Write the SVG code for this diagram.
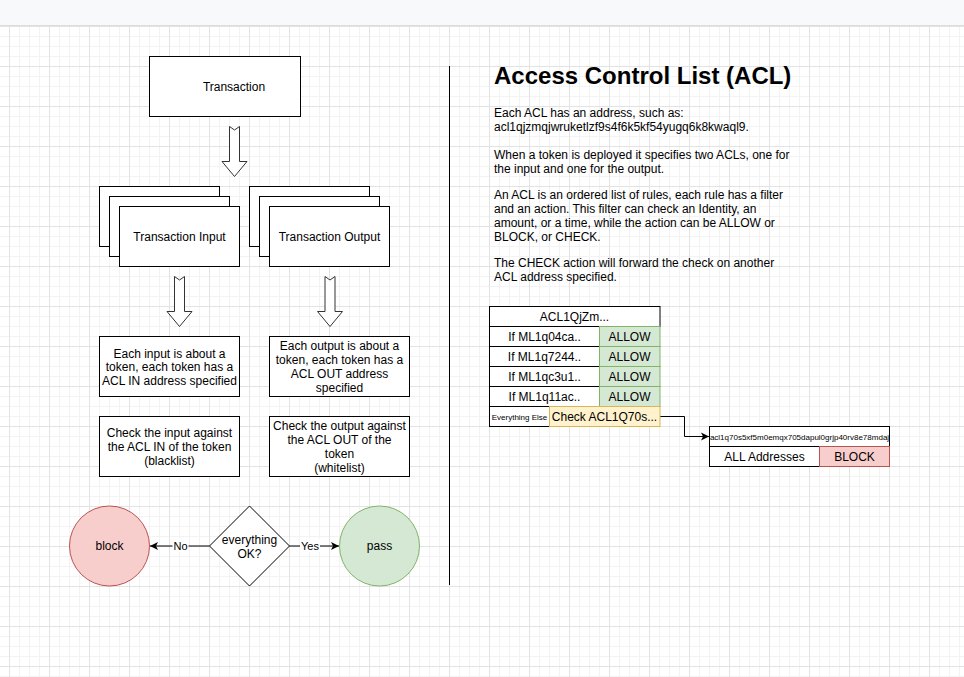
<svg xmlns="http://www.w3.org/2000/svg" width="964" height="677" viewBox="0 0 964 677">
<defs>
<pattern id="grid" x="9" y="26" width="40" height="40" patternUnits="userSpaceOnUse">
<path d="M10.5,0V40M20.5,0V40M30.5,0V40M0,10.5H40M0,20.5H40M0,30.5H40" stroke="#f3f3f3" stroke-width="1" fill="none"/>
<path d="M0.5,0V40M0,0.5H40" stroke="#e3e3e3" stroke-width="1" fill="none"/>
</pattern>
<marker id="arr" markerUnits="userSpaceOnUse" markerWidth="8" markerHeight="8" refX="8" refY="4" orient="auto" overflow="visible">
<path d="M0,0 L8,4 L0,8 L2,4 Z" fill="#000"/>
</marker>
<style>
text{font-family:"Liberation Sans",Arial,Helvetica,sans-serif;fill:#000;}
.t12{font-size:12px;text-anchor:middle;}
.p{font-size:12px;}
.box{fill:#fff;stroke:#000;stroke-width:1;}
.barrow{fill:#fff;stroke:#333;stroke-width:1;}
.green{fill:#d5e8d4;stroke:#82b366;stroke-width:1;}
.red{fill:#f8cecc;stroke:#b85450;stroke-width:1;}
.yellow{fill:#fff2cc;stroke:#d6b656;stroke-width:1;}
.edge{fill:none;stroke:#000;stroke-width:1;}
.lbl{font-size:11px;text-anchor:middle;}
</style>
</defs>
<rect x="0" y="0" width="964" height="677" fill="#fff"/>
<rect x="0" y="26" width="964" height="651" fill="url(#grid)"/>
<rect x="0" y="0" width="964" height="25" fill="#f8f9fa"/>
<line x1="0" y1="25.5" x2="964" y2="25.5" stroke="#dadce0"/>

<g id="transaction">
<rect class="box" x="149.5" y="56.5" width="151" height="60"/>
<text class="t12" x="234" y="91">Transaction</text>
</g>

<g id="arrow-transaction">
<path class="barrow" d="M229.5,126.5 L234.5,130 L239.5,126.5 L239.5,161.5 L247,161.5 L234.5,176.5 L222,161.5 L229.5,161.5 Z"/>
</g>

<g id="transaction-input">
<rect class="box" x="99.5" y="186.5" width="120" height="60"/>
<rect class="box" x="109.5" y="196.5" width="120" height="60"/>
<rect class="box" x="119.5" y="206.5" width="120" height="60"/>
<text class="t12" x="179.5" y="240.5">Transaction Input</text>
</g>

<g id="transaction-output">
<rect class="box" x="249.5" y="186.5" width="120" height="60"/>
<rect class="box" x="259.5" y="196.5" width="120" height="60"/>
<rect class="box" x="269.5" y="206.5" width="120" height="60"/>
<text class="t12" x="329.5" y="240.5">Transaction Output</text>
</g>

<g id="arrow-input">
<path class="barrow" d="M174.5,276.5 L179.5,280 L184.5,276.5 L184.5,311.5 L192,311.5 L179.5,326.5 L167,311.5 L174.5,311.5 Z"/>
</g>
<g id="arrow-output">
<path class="barrow" d="M325,276.5 L330,280 L335,276.5 L335,311.5 L342.5,311.5 L330,326.5 L317.5,311.5 L325,311.5 Z"/>
</g>

<g id="input-desc">
<rect class="box" x="99.5" y="336.5" width="140" height="60"/>
<text class="t12" x="169.5" y="357.5">Each input is about a</text>
<text class="t12" x="169.5" y="371">token, each token has a</text>
<text class="t12" x="169.5" y="385">ACL IN address specified</text>
</g>

<g id="output-desc">
<rect class="box" x="269.5" y="336.5" width="140" height="60"/>
<text class="t12" x="339.5" y="350">Each output is about a</text>
<text class="t12" x="339.5" y="364">token, each token has a</text>
<text class="t12" x="339.5" y="377.5">ACL OUT address</text>
<text class="t12" x="339.5" y="391.5">specified</text>
</g>

<g id="input-check">
<rect class="box" x="99.5" y="416.5" width="140" height="60"/>
<text class="t12" x="169.5" y="437">Check the input against</text>
<text class="t12" x="169.5" y="451">the ACL IN of the token</text>
<text class="t12" x="169.5" y="465">(blacklist)</text>
</g>

<g id="output-check">
<rect class="box" x="269.5" y="416.5" width="140" height="60"/>
<text class="t12" x="339.5" y="430">Check the output against</text>
<text class="t12" x="339.5" y="444">the ACL OUT of the</text>
<text class="t12" x="339.5" y="458">token</text>
<text class="t12" x="339.5" y="471.5">(whitelist)</text>
</g>

<g id="block">
<circle class="red" cx="109.5" cy="546" r="40"/>
<text class="t12" x="109.5" y="550">block</text>
</g>

<g id="decision">
<path class="box" d="M249.5,506 L289.5,546 L249.5,586 L209.5,546 Z"/>
<text class="t12" x="249.5" y="544">everything</text>
<text class="t12" x="249.5" y="558">OK?</text>
</g>

<g id="pass">
<circle class="green" cx="379.5" cy="546" r="40"/>
<text class="t12" x="379.5" y="550">pass</text>
</g>

<g id="connectors">
<path class="edge" d="M209.5,546 H150" marker-end="url(#arr)"/>
<rect x="172.5" y="539" width="16" height="13" fill="#fff"/>
<text class="lbl" x="180.5" y="550">No</text>
<path class="edge" d="M289.5,546 H339" marker-end="url(#arr)"/>
<rect x="300" y="539" width="20" height="13" fill="#fff"/>
<text class="lbl" x="310" y="550">Yes</text>
<path class="edge" d="M660,416.5 H684.5 V436.5 H709" marker-end="url(#arr)"/>
</g>

<g id="separator">
<line x1="449.5" y1="66" x2="449.5" y2="585" stroke="#000" stroke-width="1"/>
</g>

<g id="acl-description">
<text x="494" y="84" style="font-size:24px;font-weight:bold;">Access Control List (ACL)</text>
<text class="p" x="494" y="116.5">Each ACL has an address, such as:</text>
<text class="p" x="494" y="131">acl1qjzmqjwruketlzf9s4f6k5kf54yugq6k8kwaql9.</text>
<text class="p" x="494" y="159">When a token is deployed it specifies two ACLs, one for</text>
<text class="p" x="494" y="173">the input and one for the output.</text>
<text class="p" x="494" y="199">An ACL is an ordered list of rules, each rule has a filter</text>
<text class="p" x="494" y="213">and an action. This filter can check an Identity, an</text>
<text class="p" x="494" y="227">amount, or a time, while the action can be ALLOW or</text>
<text class="p" x="494" y="241">BLOCK, or CHECK.</text>
<text class="p" x="494" y="267">The CHECK action will forward the check on another</text>
<text class="p" x="494" y="281">ACL address specified.</text>
</g>

<g id="acl-table">
<rect class="box" x="489.5" y="306.5" width="170.5" height="20"/>
<text class="t12" x="574.5" y="320.5">ACL1QjZm...</text>
<rect class="box" x="489.5" y="326.5" width="110" height="20"/>
<rect class="green" x="599.5" y="326.5" width="60.5" height="20"/>
<text class="t12" x="544.5" y="340.5">If ML1q04ca..</text>
<text class="t12" x="629.5" y="340.5">ALLOW</text>
<rect class="box" x="489.5" y="346.5" width="110" height="20"/>
<rect class="green" x="599.5" y="346.5" width="60.5" height="20"/>
<text class="t12" x="544.5" y="360.5">If ML1q7244..</text>
<text class="t12" x="629.5" y="360.5">ALLOW</text>
<rect class="box" x="489.5" y="366.5" width="110" height="20"/>
<rect class="green" x="599.5" y="366.5" width="60.5" height="20"/>
<text class="t12" x="544.5" y="380.5">If ML1qc3u1..</text>
<text class="t12" x="629.5" y="380.5">ALLOW</text>
<rect class="box" x="489.5" y="386.5" width="110" height="20"/>
<rect class="green" x="599.5" y="386.5" width="60.5" height="20"/>
<text class="t12" x="544.5" y="400.5">If ML1q11ac..</text>
<text class="t12" x="629.5" y="400.5">ALLOW</text>
<rect class="box" x="489.5" y="406.5" width="60" height="20"/>
<rect class="yellow" x="549.5" y="406.5" width="110.5" height="20"/>
<text x="519.5" y="419.5" style="font-size:8px;text-anchor:middle;">Everything Else</text>
<text class="t12" x="604.5" y="420.5">Check ACL1Q70s...</text>
</g>

<g id="acl-table-2">
<rect class="box" x="709.5" y="426.5" width="180" height="20"/>
<text x="799.5" y="439.5" style="font-size:8px;text-anchor:middle;">acl1q70s5xf5m0emqx705dapul0grjp40rv8e78mdaj</text>
<rect class="box" x="709.5" y="446.5" width="110" height="20"/>
<rect class="red" x="819.5" y="446.5" width="70" height="20"/>
<text class="t12" x="764.5" y="460.5">ALL Addresses</text>
<text class="t12" x="854.5" y="460.5">BLOCK</text>
</g>
</svg>
